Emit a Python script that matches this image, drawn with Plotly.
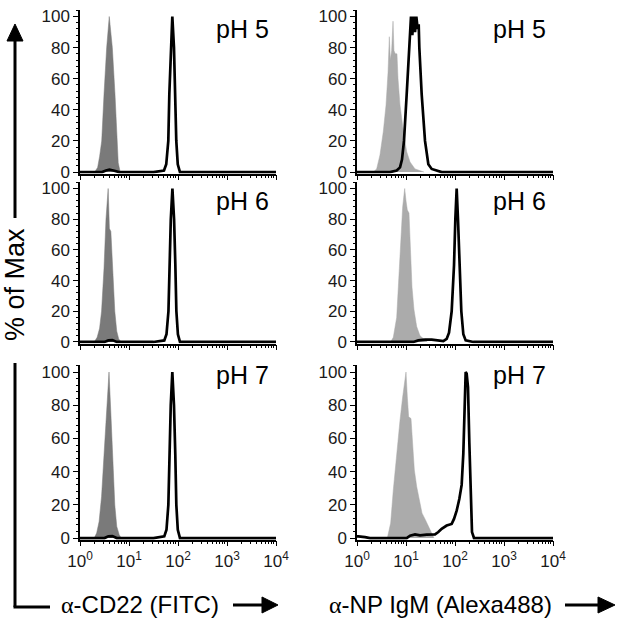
import plotly.graph_objects as go

# ---------------- data (x values are log10 of fluorescence intensity, y = % of Max) -------------
# Left column: alpha-CD22 (FITC)
tl_gray_log = [0.30, 0.36, 0.40, 0.443, 0.49, 0.544, 0.597, 0.66, 0.714, 0.749, 0.78, 0.82]
tl_gray_pct = [0, 3, 10, 20, 50, 80, 100, 80, 50, 20, 6, 0]
tl_black_log = [0, 0.45, 0.53, 0.60, 0.68, 0.80, 1.50, 1.714, 1.76, 1.802, 1.823, 1.851, 1.884, 1.918, 1.945, 1.965, 1.995, 2.04, 2.5, 4.0]
tl_black_pct = [0, 0, 1, 1.5, 1, 0, 0, 1, 5, 20, 50, 80, 100, 80, 50, 20, 5, 0, 0, 0]

ml_gray_log = [0.29, 0.35, 0.40, 0.44, 0.49, 0.53, 0.575, 0.60, 0.63, 0.67, 0.71, 0.75, 0.79, 0.84]
ml_gray_pct = [0, 3, 9, 20, 48, 80, 100, 74, 72, 45, 20, 7, 2, 0]
ml_black_log = [0, 0.50, 0.58, 0.66, 0.75, 1.50, 1.72, 1.765, 1.805, 1.826, 1.853, 1.886, 1.92, 1.946, 1.967, 1.998, 2.04, 2.5, 4.0]
ml_black_pct = [0, 0, 1, 1.2, 0, 0, 1, 5, 20, 50, 80, 100, 80, 50, 20, 5, 0, 0, 0]

bl_gray_log = [0.29, 0.34, 0.39, 0.44, 0.49, 0.52, 0.56, 0.592, 0.63, 0.67, 0.71, 0.75, 0.80, 0.84]
bl_gray_pct = [0, 3, 10, 25, 50, 66, 80, 100, 75, 45, 20, 7, 2, 0]
bl_black_log = [0, 0.50, 0.58, 0.66, 0.75, 1.50, 1.72, 1.765, 1.803, 1.825, 1.852, 1.884, 1.918, 1.945, 1.966, 1.996, 2.04, 2.5, 4.0]
bl_black_pct = [0, 0, 1, 1.2, 0, 0, 1, 5, 20, 50, 80, 100, 80, 50, 20, 5, 0, 0, 0]

# Right column: alpha-NP IgM (Alexa488)
tr_gray_log = [0.333, 0.401, 0.469, 0.537, 0.592, 0.633, 0.660, 0.680, 0.707, 0.735, 0.755, 0.782,
               0.816, 0.837, 0.878, 0.946, 1.014, 1.082, 1.184, 1.286, 1.367]
tr_gray_pct = [0, 2, 11, 26, 43, 64, 87, 72, 78, 97, 78, 76, 76, 60, 43, 26, 13, 6.5, 2, 0.6, 0]
tr_black_log = [0, 0.673, 0.810, 0.878, 0.918, 0.959, 1.014, 1.068, 1.102, 1.129, 1.156, 1.184, 1.211,
                1.238, 1.259, 1.272, 1.320, 1.388, 1.456, 1.524, 1.626, 1.728, 4.0]
tr_black_pct = [0, 0, 1, 3, 8, 20, 50, 80, 100, 88, 100, 90, 100, 92, 95, 80, 50, 20, 5, 2, 1, 0, 0]

mr_gray_log = [0.687, 0.741, 0.810, 0.857, 0.898, 0.932, 0.973, 1.0, 1.027, 1.061, 1.088, 1.122,
               1.163, 1.218, 1.286, 1.367, 1.435]
mr_gray_pct = [0, 3, 16, 40, 68, 88, 100, 92, 86, 84, 58, 36, 21, 10, 4, 2, 0]
mr_black_log = [0, 1.150, 1.252, 1.388, 1.524, 1.660, 1.762, 1.830, 1.878, 1.932, 1.980, 2.007, 2.034,
                2.061, 2.088, 2.129, 2.170, 2.218, 2.374, 4.0]
mr_black_pct = [0, 0, 1, 1.5, 1.5, 1, 0.5, 2, 6, 20, 50, 80, 100, 80, 50, 20, 5, 1, 0, 0]

br_gray_log = [0.619, 0.687, 0.741, 0.810, 0.878, 0.932, 0.973, 1.0, 1.027, 1.054, 1.102, 1.129,
               1.170, 1.218, 1.265, 1.327, 1.395, 1.463, 1.524, 1.571]
br_gray_pct = [0, 9, 29, 51, 71, 85, 95, 100, 85, 73, 72, 58, 41, 31, 24, 15, 11, 7, 3, 0]
br_black_log = [0, 0.027, 0.163, 0.265, 1.014, 1.082, 1.184, 1.286, 1.422, 1.592, 1.660, 1.728, 1.830,
                1.932, 1.980, 2.034, 2.088, 2.136, 2.170, 2.190, 2.218, 2.238, 2.265, 2.293, 2.320,
                2.347, 2.388, 4.0]
br_black_pct = [1, 1, 0.5, 0, 0, 1.4, 2.2, 1.6, 2, 2.2, 3.6, 5.6, 7.5, 8.5, 11.5, 16.5, 23.5, 32, 51,
                77, 100, 99, 91, 57, 21, 3.6, 0, 0]

panel_labels = ["pH 5", "pH 5", "pH 6", "pH 6", "pH 7", "pH 7"]
x_tick_vals = [1, 10, 100, 1000, 10000]
x_tick_text = ["10<sup>0</sup>", "10<sup>1</sup>", "10<sup>2</sup>", "10<sup>3</sup>", "10<sup>4</sup>"]
y_title = "% of Max"
x_titles = ["<span style=\"font-family:'Liberation Serif'\">α</span>-CD22 (FITC)",
            "<span style=\"font-family:'Liberation Serif'\">α</span>-NP IgM (Alexa488)"]

panels = [
    (tl_gray_log, tl_gray_pct, tl_black_log, tl_black_pct),
    (tr_gray_log, tr_gray_pct, tr_black_log, tr_black_pct),
    (ml_gray_log, ml_gray_pct, ml_black_log, ml_black_pct),
    (mr_gray_log, mr_gray_pct, mr_black_log, mr_black_pct),
    (bl_gray_log, bl_gray_pct, bl_black_log, bl_black_pct),
    (br_gray_log, br_gray_pct, br_black_log, br_black_pct),
]

# ---------------- layout geometry ----------------
W, H = 620, 624
def fx(p):
    return p / W
def fy(p):
    return 1 - p / H

col_px = [(80, 276), (357, 553)]
row_px = [(10.3, 173.6), (182.4, 343.5), (365.4, 539.7)]
gray_cols = ["#7a7a7a", "#ababab"]
FONT = "Liberation Sans, Arial, sans-serif"

fig = go.Figure()
layout = dict(width=W, height=H, margin=dict(l=0, r=0, t=0, b=0, autoexpand=False),
              paper_bgcolor="white", plot_bgcolor="white", showlegend=False)

minor_x = [m * 10 ** d for d in range(4) for m in range(2, 10)]

for i, (gx, gy, bx, by) in enumerate(panels):
    r, c = divmod(i, 2)
    n = i + 1
    xs = "x" if n == 1 else f"x{n}"
    ys = "y" if n == 1 else f"y{n}"
    fig.add_trace(go.Scatter(x=[10 ** v for v in gx], y=gy, xaxis=xs, yaxis=ys, mode="lines",
                             fill="tozeroy", fillcolor=gray_cols[c],
                             line=dict(color=gray_cols[c], width=0.5), hoverinfo="skip"))
    fig.add_trace(go.Scatter(x=[10 ** v for v in bx], y=by, xaxis=xs, yaxis=ys, mode="lines",
                             line=dict(color="black", width=2.7), hoverinfo="skip"))
    x0, x1 = col_px[c]
    y0, y1 = row_px[r]
    layout["xaxis" if n == 1 else f"xaxis{n}"] = dict(
        type="log", range=[0, 4], domain=[fx(x0), fx(x1)], anchor=ys, automargin=False,
        showgrid=False, zeroline=False, showline=True, linecolor="black", linewidth=1.5,
        ticks="outside", ticklen=5, tickwidth=1.2, tickcolor="black",
        tickmode="array", tickvals=x_tick_vals, ticktext=x_tick_text,
        showticklabels=(r == 2), tickfont=dict(family=FONT, size=17, color="#1a1a1a"),
        minor=dict(ticks="outside", ticklen=3, tickwidth=1, tickcolor="black",
                   tickmode="array", tickvals=minor_x),
    )
    layout["yaxis" if n == 1 else f"yaxis{n}"] = dict(
        range=[-1, 104], domain=[fy(y1), fy(y0)], anchor=xs, automargin=False,
        showgrid=False, zeroline=False, showline=True, linecolor="black", linewidth=1.5,
        ticks="outside", ticklen=5, tickwidth=1.2, tickcolor="black",
        tickmode="linear", tick0=0, dtick=20,
        tickfont=dict(family=FONT, size=17, color="#1a1a1a"),
        minor=dict(ticks="outside", ticklen=2.5, tickwidth=1, tickcolor="black",
                   tickmode="linear", tick0=0, dtick=4),
    )

fig.update_layout(**layout)

# panel labels
label_y = [29, 201, 375]
label_x = [271, 548]
for i, txt in enumerate(panel_labels):
    r, c = divmod(i, 2)
    fig.add_annotation(text=txt, xref="paper", yref="paper", x=fx(label_x[c]), y=fy(label_y[r]),
                       xanchor="right", yanchor="middle", showarrow=False,
                       font=dict(family=FONT, size=25, color="black"))

# y-axis title with arrow line
fig.add_annotation(text=y_title, xref="paper", yref="paper", x=fx(15), y=fy(285), textangle=-90,
                   xanchor="center", yanchor="middle", showarrow=False,
                   font=dict(family=FONT, size=27, color="black"))
LW = 3
shapes = []
def line(xa, ya, xb, yb):
    shapes.append(dict(type="line", xref="paper", yref="paper", x0=fx(xa), y0=fy(ya), x1=fx(xb), y1=fy(yb),
                       line=dict(color="black", width=LW)))
def tri(pts):
    path = "M " + " L ".join(f"{fx(a):.5f},{fy(b):.5f}" for a, b in pts) + " Z"
    shapes.append(dict(type="path", xref="paper", yref="paper", path=path,
                       fillcolor="black", line=dict(color="black", width=1)))

line(15, 38, 15, 218)
tri([(15, 24), (23, 41), (7, 41)])
line(15, 363, 15, 607)
line(13.5, 607, 50, 607)

# x-axis titles with arrows
fig.add_annotation(text=x_titles[0], xref="paper", yref="paper", x=fx(59), y=fy(604),
                   xanchor="left", yanchor="middle", showarrow=False,
                   font=dict(family=FONT, size=24, color="black"))
fig.add_annotation(text=x_titles[1], xref="paper", yref="paper", x=fx(327), y=fy(604),
                   xanchor="left", yanchor="middle", showarrow=False,
                   font=dict(family=FONT, size=24, color="black"))
line(233, 605, 266, 605)
tri([(262, 597), (278, 605), (262, 613)])
line(565, 605, 601, 605)
tri([(598, 597), (615, 605), (598, 613)])

fig.update_layout(shapes=shapes)
fig.write_html("out.html", config={"displayModeBar": False},
               post_script="document.body.style.margin='0px';document.body.style.overflow='hidden';")
